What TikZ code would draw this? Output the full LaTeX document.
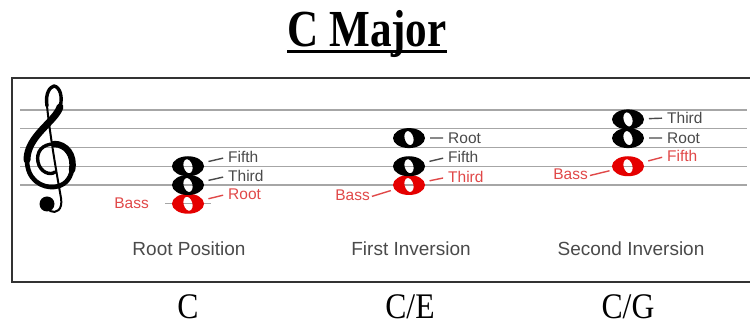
\documentclass[tikz,border=0pt]{standalone}
\usepackage{fontspec}
\setmainfont{Liberation Serif}
\newfontfamily\labelfont{Liberation Sans}
\definecolor{notered}{HTML}{E50000}
\definecolor{labred}{HTML}{E04848}
\definecolor{labgray}{HTML}{4A4A4A}
\definecolor{staffgray}{HTML}{A6A6A6}
\definecolor{framegray}{HTML}{333333}
\tikzset{
  lab/.style={font=\labelfont\fontsize{15.5}{16}\selectfont, text=labgray, anchor=west, inner sep=0pt},
  redlab/.style={lab, text=labred},
  basslab/.style={lab, text=labred, anchor=east},
  caption/.style={font=\labelfont\fontsize{19}{20}\selectfont, text=labgray, inner sep=0pt},
  chordname/.style={font=\fontsize{36}{36}\selectfont, anchor=base, inner sep=0pt},
  notedash/.style={line width=1.4pt, labgray, shorten <=21pt, shorten >=5pt},
  reddash/.style={notedash, labred},
  bassdash/.style={line width=1.4pt, labred, shorten <=2pt, shorten >=19pt},
  clefpen/.style={line cap=round, line join=round},
}
% whole note: name, position, colour
\newcommand{\wholenote}[3]{%
  \coordinate (#1) at (#2);
  \fill[#3, even odd rule] (#1) ellipse [x radius=16, y radius=10]
    (#1) ellipse [x radius=4.4, y radius=7.2, rotate=15];
}
\begin{document}
\begin{tikzpicture}[x=1pt, y=-1pt]
  \clip (0,0) rectangle (750,328);
  \useasboundingbox (0,0) rectangle (750,328);
  % Title
  \node[font=\bfseries\fontsize{52}{52}\selectfont, anchor=base, inner sep=0pt]
    (title) at (367,47) {\scalebox{0.83}[1]{C Major}};
  \draw[line width=3pt] ([yshift=-4.5pt]title.base west) -- ([yshift=-4.5pt]title.base east);
  % Frame
  \draw[line width=1.5pt, framegray] (12,78) rectangle (760,282);
  % Staff
  \foreach \y in {110,128.75,147.5,166.25,185} {
    \draw[line width=1.2pt, staffgray] (20,\y) -- (747,\y);
  }
  % Clef
  \draw[clefpen, line width=3.4pt] (47,106) .. controls (45,93) and (50,87) .. (54,86)
    .. controls (60,87) and (63,97) .. (60,107);
  \draw[clefpen, line width=7pt] (60,107) .. controls (55,122) and (27,136) .. (27,160);
  \draw[clefpen, line width=4.6pt] (27,160) .. controls (27,180) and (42,188) .. (54,187)
    .. controls (64,186) and (70,180) .. (72,170);
  \draw[clefpen, line width=6.5pt] (72,170) .. controls (75,155) and (66,144) .. (54,144);
  \draw[clefpen, line width=3.4pt] (54,144) .. controls (42,144) and (36,152) .. (38,162)
    .. controls (40,172) and (50,176) .. (55,172);
  \draw[clefpen, line width=2pt] (47,106) .. controls (50,135) and (56,170) .. (61,198)
    .. controls (63,210) and (56,214) .. (50,211);
  \fill (47,204) circle [radius=7.5];
  % Root position
  \draw[line width=1.2pt, staffgray] (165,203.75) -- (211,203.75);
  \wholenote{rpc}{188,203.75}{notered}
  \wholenote{rpe}{188,185}{black}
  \wholenote{rpg}{188,166.25}{black}
  \node[lab] (rpfifth) at (228,157) {Fifth};
  \node[lab] (rpthird) at (228,176) {Third};
  \node[redlab] (rproot) at (228,194) {Root};
  \node[basslab] (rpbass) at (149,203) {Bass};
  \draw[notedash] (rpg) -- (rpfifth.west);
  \draw[notedash] (rpe) -- (rpthird.west);
  \draw[reddash] (rpc) -- (rproot.west);
  % First inversion
  \wholenote{fie}{409,185}{notered}
  \wholenote{fig}{409,166.25}{black}
  \wholenote{fic}{409,138.1}{black}
  \node[lab] (firoot) at (448,138) {Root};
  \node[lab] (fififth) at (448,157) {Fifth};
  \node[redlab] (fithird) at (448,177) {Third};
  \node[basslab] (fibass) at (370,195) {Bass};
  \draw[notedash] (fic) -- (firoot.west);
  \draw[notedash] (fig) -- (fififth.west);
  \draw[reddash] (fie) -- (fithird.west);
  \draw[bassdash] ([yshift=-2pt]fibass.east) -- (fie);
  % Second inversion
  \wholenote{sig}{628,166.25}{notered}
  \wholenote{sic}{628,138.1}{black}
  \wholenote{sie}{628,119.4}{black}
  \node[lab] (sithird) at (667,118) {Third};
  \node[lab] (siroot) at (667,138) {Root};
  \node[redlab] (sififth) at (667,156) {Fifth};
  \node[basslab] (sibass) at (588,174) {Bass};
  \draw[notedash] (sie) -- (sithird.west);
  \draw[notedash] (sic) -- (siroot.west);
  \draw[reddash] (sig) -- (sififth.west);
  \draw[bassdash] ([yshift=-2pt]sibass.east) -- (sig);
  % Captions
  \node[caption] (rpcap) at (189,249) {Root Position};
  \node[caption] (ficap) at (411,249) {First Inversion};
  \node[caption] (sicap) at (631,249) {Second Inversion};
  % Chord names
  \node[chordname] (rpname) at (188,319) {\scalebox{0.88}[1]{C}};
  \node[chordname] (finame) at (410,319) {\scalebox{0.88}[1]{C/E}};
  \node[chordname] (siname) at (628,319) {\scalebox{0.88}[1]{C/G}};
\end{tikzpicture}
\end{document}
